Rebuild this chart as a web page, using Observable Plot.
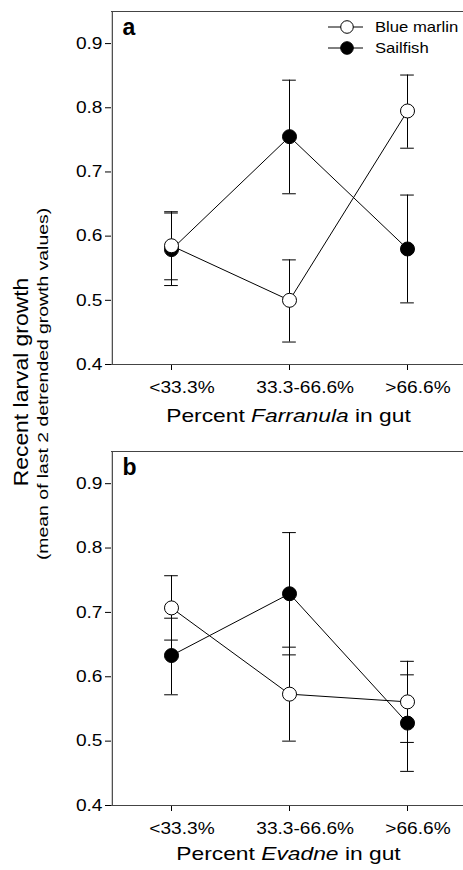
<!DOCTYPE html>
<html><head><meta charset="utf-8">
<script src="https://cdn.jsdelivr.net/npm/d3@7"></script>
<script src="https://cdn.jsdelivr.net/npm/@observablehq/plot@0.6"></script>
<style>
html,body{margin:0;background:#fff;overflow:hidden;width:463px}
#wrap{position:relative;width:463px;height:870px;overflow:hidden;font-family:"Liberation Sans",Arial,sans-serif;color:#000;background:#fff}
#wrap svg.panel{max-width:none !important}
.panel{position:absolute;left:0}
.xlab{position:absolute;left:111px;width:355px;text-align:center;font-size:19px;line-height:19px;white-space:nowrap;transform:scaleX(1.2)}
.ytitle{position:absolute;white-space:nowrap;line-height:1}
.legend{position:absolute;left:325px;top:17px;font-size:15px;line-height:20.6px}
.legend div{display:flex;align-items:center;height:20.6px}
.legend svg{margin-right:12px;flex:none}
.legend span{display:inline-block;transform:scaleX(1.11);transform-origin:left center}
</style></head><body><div id="wrap"></div>
<script>
// ---- data ----
const categories = ["<33.3%", "33.3-66.6%", ">66.6%"];
const series = ["Blue marlin", "Sailfish"];
const yTicks = [0.4, 0.5, 0.6, 0.7, 0.8, 0.9];

// Panel a: Percent Farranula in gut
const aMarlinMean = [0.585, 0.500, 0.795];
const aMarlinLo   = [0.532, 0.435, 0.737];
const aMarlinHi   = [0.638, 0.563, 0.851];
const aSailMean   = [0.579, 0.755, 0.580];
const aSailLo     = [0.523, 0.666, 0.496];
const aSailHi     = [0.636, 0.843, 0.664];

// Panel b: Percent Evadne in gut
const bMarlinMean = [0.707, 0.573, 0.561];
const bMarlinLo   = [0.657, 0.500, 0.498];
const bMarlinHi   = [0.757, 0.646, 0.624];
const bSailMean   = [0.633, 0.729, 0.528];
const bSailLo     = [0.572, 0.634, 0.453];
const bSailHi     = [0.691, 0.824, 0.603];

function rowsFor(name, mean, lo, hi) {
  return categories.map((c, i) => ({series: name, cat: c, y: mean[i], lo: lo[i], hi: hi[i]}));
}

const W = 520, ML = 111, XR = 466;
const STEP = (XR - ML) / categories.length;
const capInset = (STEP - 14) / 2;
const S = 1.16;

// widen tick labels along their reading direction (x labels are also nudged right, as in the reference)
function stretchTickLabels(svg) {
  d3.select(svg).selectAll('g[aria-label*="axis"] text').each(function() {
    const label = this.parentNode.getAttribute("aria-label") || "";
    const isX = /x-axis/.test(label) || /x-axis/.test((this.closest('g[aria-label*="x-axis"]') || {}).getAttribute?.("aria-label") || "");
    const x = +this.getAttribute("x") || 0;
    const t = this.getAttribute("transform") || "";
    let shift = 0;
    if (isX) shift = 0.16 * S * this.getComputedTextLength();
    this.setAttribute("transform", `${t} translate(${x + shift},0) scale(${S},1) translate(${-x},0)`);
  });
}

function panel(marlin, sail, letter, height, marginBottom) {
  const rows = [...sail, ...marlin];
  const svg = Plot.plot({
    width: W, height, marginTop: 11, marginLeft: ML, marginRight: 0, marginBottom,
    style: {fontFamily: '"Liberation Sans", Arial, sans-serif', fontSize: "16.5px", color: "#000", background: "transparent", maxWidth: "none"},
    x: {type: "band", domain: categories, range: [ML, XR], padding: 0, label: null, tickSize: 6, tickPadding: 11},
    y: {domain: [0.4, 0.95], ticks: yTicks, tickFormat: d3.format(".1f"), label: null, tickSize: 6, tickPadding: 3},
    marks: [
      // open frame: top, bottom and left edges
      Plot.ruleY([0.95, 0.4], {stroke: "#444", strokeWidth: 1.2}),
      Plot.ruleX([categories[0]], {dx: -STEP / 2, y1: 0.4, y2: 0.95, stroke: "#444", strokeWidth: 1.2}),
      Plot.ruleX(rows, {x: "cat", y1: "lo", y2: "hi", stroke: "#000", strokeWidth: 1}),
      Plot.tickY(rows, {x: "cat", y: "lo", insetLeft: capInset, insetRight: capInset, stroke: "#000", strokeWidth: 1}),
      Plot.tickY(rows, {x: "cat", y: "hi", insetLeft: capInset, insetRight: capInset, stroke: "#000", strokeWidth: 1}),
      Plot.line(sail, {x: "cat", y: "y", stroke: "#000", strokeWidth: 1}),
      Plot.line(marlin, {x: "cat", y: "y", stroke: "#000", strokeWidth: 1}),
      Plot.dot(sail, {x: "cat", y: "y", r: 7, fill: "#000", stroke: "#000", strokeWidth: 1}),
      Plot.dot(marlin, {x: "cat", y: "y", r: 7, fill: "#fff", stroke: "#000", strokeWidth: 1}),
      Plot.text([letter], {frameAnchor: "top-left", dx: 11, dy: 7, text: d => d, fontWeight: "bold", fontSize: 23})
    ]
  });
  svg.style.maxWidth = "none";
  svg.style.width = W + "px";
  svg.style.height = height + "px";
  return svg;
}

const wrap = document.getElementById("wrap");

const pa = panel(rowsFor(series[0], aMarlinMean, aMarlinLo, aMarlinHi),
                 rowsFor(series[1], aSailMean, aSailLo, aSailHi), "a", 440, 76);
pa.classList.add("panel"); pa.style.top = "0px";
wrap.appendChild(pa);
stretchTickLabels(pa);

const pb = panel(rowsFor(series[0], bMarlinMean, bMarlinLo, bMarlinHi),
                 rowsFor(series[1], bSailMean, bSailLo, bSailHi), "b", 430, 65);
pb.classList.add("panel"); pb.style.top = "440px";
wrap.appendChild(pb);
stretchTickLabels(pb);

// x-axis titles
function addDiv(cls, html, css) {
  const d = document.createElement("div");
  d.className = cls; d.innerHTML = html;
  Object.assign(d.style, css);
  wrap.appendChild(d);
  return d;
}
addDiv("xlab", "Percent <i>Farranula</i> in gut", {top: "406px"});
addDiv("xlab", "Percent <i>Evadne</i> in gut", {top: "844px"});

// y-axis title (rotated, stretched along its reading direction)
addDiv("ytitle", "Recent larval growth", {left: "20px", top: "382px", fontSize: "21px",
  transform: "translate(-50%,-50%) rotate(-90deg) scaleX(1.09)"});
addDiv("ytitle", "(mean of last 2 detrended growth values)", {left: "43px", top: "384px", fontSize: "15.5px",
  transform: "translate(-50%,-50%) rotate(-90deg) scaleX(1.25)"});

// legend
const leg = document.createElement("div");
leg.className = "legend";
series.forEach(s => {
  const row = document.createElement("div");
  const fill = s === "Sailfish" ? "#000" : "#fff";
  row.innerHTML = `<svg width="38" height="16"><line x1="3" x2="38" y1="8" y2="8" stroke="#000"/><circle cx="22" cy="8" r="6.3" fill="${fill}" stroke="#000"/></svg><span>${s}</span>`;
  leg.appendChild(row);
});
wrap.appendChild(leg);
</script></body></html>
